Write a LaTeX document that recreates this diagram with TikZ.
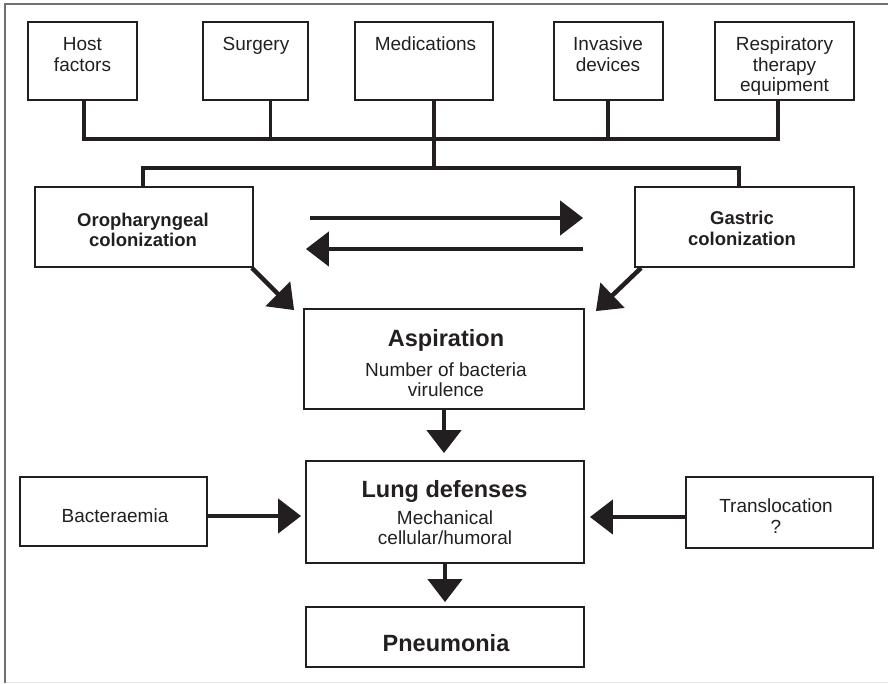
\documentclass[tikz,border=0pt]{standalone}
\usepackage{fontspec}
\setmainfont{Liberation Sans}
\usetikzlibrary{arrows.meta}
\definecolor{ink}{HTML}{231F20}
\definecolor{framegray}{HTML}{707070}
\definecolor{framefaint}{HTML}{E6E6E6}
\begin{document}
\begin{tikzpicture}[x=1pt,y=-1pt,
  box/.style={draw=ink,line width=1.8pt,rectangle,inner sep=0pt},
  txt/.style={anchor=base,align=center,inner sep=0pt,text=ink,font=\fontsize{19}{21}\selectfont},
  btxt/.style={anchor=base,align=center,inner sep=0pt,text=ink,font=\bfseries\fontsize{18.5}{20.7}\selectfont},
  bigtxt/.style={anchor=base,align=center,inner sep=0pt,text=ink,font=\bfseries\fontsize{23.5}{26}\selectfont},
  bus/.style={draw=ink,line width=3.2pt},
  arr/.style={draw=ink,fill=ink,line width=4.5pt,-{Triangle[length=23pt,width=34pt]}},
]
\useasboundingbox (0,0) rectangle (888,683);

% outer frame
\draw[framegray,line width=2pt] (888,4) -- (5,4) -- (5,683);
\draw[framefaint,line width=1pt] (6,682.5) -- (888,682.5);

% risk factor boxes (text nodes sit on the baseline of their last line)
\node[box,minimum width=109pt,minimum height=78pt] (host) at (82.5,61) {};
\node[box,minimum width=105pt,minimum height=78pt] (surg) at (255.5,61) {};
\node[box,minimum width=138pt,minimum height=78pt] (med)  at (424,61) {};
\node[box,minimum width=109pt,minimum height=78pt] (inv)  at (608.5,61) {};
\node[box,minimum width=139pt,minimum height=78pt] (resp) at (784.5,61) {};
\node[txt] (host-t) at (82.5,71) {Host\\factors};
\node[txt] (surg-t) at (256,50) {Surgery};
\node[txt] (med-t)  at (425.5,50) {Medications};
\node[txt] (inv-t)  at (608,71) {Invasive\\devices};
\node[txt,font=\fontsize{19}{20.5}\selectfont] (resp-t) at (784.5,91.5) {Respiratory\\therapy\\equipment};

% colonization boxes
\node[box,minimum width=218pt,minimum height=80pt] (oro) at (144,227) {};
\node[box,minimum width=219pt,minimum height=80pt] (gas) at (744.5,227) {};
\node[btxt] (oro-t) at (143,246.7) {Oropharyngeal\\colonization};
\node[btxt] (gas-t) at (742,245.2) {Gastric\\colonization};

% central chain
\node[box,minimum width=280pt,minimum height=100pt] (asp)  at (444,359) {};
\node[box,minimum width=278pt,minimum height=102pt] (lung) at (445,512) {};
\node[box,minimum width=278pt,minimum height=60pt]  (pneu) at (445,637) {};
\node[bigtxt] (asp-t)  at (446,346.7) {Aspiration};
\node[txt,font=\fontsize{19}{20}\selectfont] (asp-s) at (446,396) {Number of bacteria\\virulence};
\node[bigtxt] (lung-t) at (444.5,497.7) {Lung defenses};
\node[txt,font=\fontsize{19}{20}\selectfont] (lung-s) at (445,544) {Mechanical\\cellular/humoral};
\node[bigtxt] (pneu-t) at (446,651) {Pneumonia};

% side inputs
\node[box,minimum width=187pt,minimum height=69pt] (bac)   at (113.5,511.5) {};
\node[box,minimum width=187pt,minimum height=71pt] (trans) at (779.5,512.5) {};
\node[txt] (bac-t)   at (115,522) {Bacteraemia};
\node[txt] (trans-t) at (776,533) {Translocation\\?};

% collecting bus from the risk factors
\coordinate (join) at (434,168);
\draw[bus] ([xshift=1.5pt]host.south) -- ++(0,38) -| ([xshift=-6.5pt]resp.south);
\draw[bus] ([xshift=14.8pt]surg.south) -- ++(0,38);
\draw[bus] ([xshift=-0.5pt]inv.south) -- ++(0,38);
\draw[bus] ([xshift=10pt]med.south) -- (join);
\draw[bus] ([xshift=-1pt]oro.north) |- (join) -| ([xshift=-5.5pt]gas.north);

% exchange between the colonization sites
\draw[arr] ([xshift=56pt,yshift=9pt]oro.east) -- ([xshift=-51pt,yshift=9pt]gas.west);
\draw[arr] ([xshift=-51pt,yshift=-22pt]gas.west) -- ([xshift=52pt,yshift=-22pt]oro.east);

% into aspiration
\draw[arr] ([xshift=-2pt]oro.south east) -- ([xshift=-9pt,yshift=-2pt]asp.north west);
\draw[arr] ([xshift=7pt]gas.south west) -- ([xshift=11pt,yshift=-3pt]asp.north east);

% down the chain
\coordinate (lungtop) at ([yshift=7pt]lung.north);
\draw[arr] (asp.south) -- (asp.south |- lungtop);
\draw[arr] (lung.south) -- ([yshift=4pt]pneu.north);

% side arrows
\draw[arr] ([yshift=-4.5pt]bac.east) -- ([xshift=-4pt,yshift=-4pt]lung.west);
\draw[arr] ([yshift=-4.5pt]trans.west) -- ([xshift=5pt,yshift=-5pt]lung.east);
\end{tikzpicture}
\end{document}
